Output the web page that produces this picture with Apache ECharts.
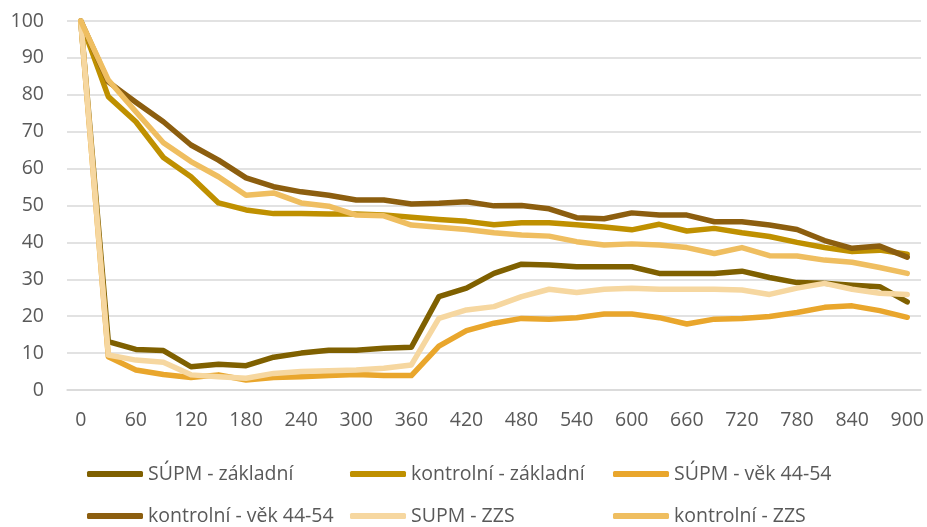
<!DOCTYPE html>
<html>
<head>
<meta charset="utf-8">
<script src="https://cdn.jsdelivr.net/npm/echarts@6/dist/echarts.min.js"></script>
<style>
html,body{margin:0;padding:0;background:#fff;}
#c{width:927px;height:527px;}
</style>
</head>
<body>
<div id="c"></div>
<script>
const categories = ['0','30','60','90','120','150','180','210','240','270','300','330','360','390','420','450','480','510','540','570','600','630','660','690','720','750','780','810','840','870','900'];
const seriesNames = ['SÚPM - základní','kontrolní - základní','SÚPM - věk 44-54','kontrolní - věk 44-54','SUPM - ZZS','kontrolní - ZZS'];
const supmZakladni = [100,13.1,11,10.7,6.3,7,6.6,8.9,10,10.8,10.8,11.3,11.6,25.3,27.6,31.6,34.1,33.9,33.4,33.4,33.4,31.6,31.6,31.6,32.2,30.5,29.1,28.9,28.4,28,23.9];
const kontrolniZakladni = [100,79.5,72.7,63,57.8,50.7,48.8,47.8,47.8,47.7,47.7,47.4,46.8,46.2,45.7,44.8,45.3,45.3,44.8,44.2,43.4,44.9,43.1,43.8,42.6,41.6,40,38.6,37.5,37.9,36.8];
const supmVek = [100,9,5.4,4.2,3.4,4.1,2.7,3.4,3.6,3.9,4.2,3.9,3.9,11.9,16.1,18.1,19.4,19.2,19.6,20.6,20.6,19.6,17.9,19.2,19.4,19.9,21,22.4,22.8,21.5,19.7];
const kontrolniVek = [100,83.5,78,72.7,66.4,62.3,57.5,55.1,53.7,52.8,51.5,51.5,50.4,50.6,51,49.9,50,49.1,46.7,46.4,48,47.4,47.4,45.6,45.6,44.7,43.5,40.5,38.4,39,36];
const supmZzs = [100,9.5,8.1,7.5,4.1,3.6,3.2,4.5,5,5.2,5.4,5.9,6.8,19.4,21.7,22.6,25.3,27.3,26.4,27.3,27.6,27.3,27.3,27.3,27.1,25.9,27.6,28.9,27.3,26.2,25.9];
const kontrolniZzs = [100,84,75.4,67,61.9,57.8,52.8,53.4,50.7,49.8,47.4,47.2,44.7,44.1,43.5,42.6,42,41.7,40.2,39.3,39.6,39.3,38.6,37,38.6,36.4,36.3,35.2,34.6,33.2,31.6];
const yTicks = {min:0, max:100, interval:10};

const colors = ['#7f6000','#bf9000','#e9a62c','#8c5e0f','#f6d7a0','#efbe60'];
const allData = [supmZakladni,kontrolniZakladni,supmVek,kontrolniVek,supmZzs,kontrolniZzs];
const FONT = '"Open Sans", "Noto Sans", sans-serif';
const TXT = '#595959';

const series = seriesNames.map((n,i)=>({
  name:n, type:'line', data:allData[i], symbol:'none',
  lineStyle:{width:5.5, color:colors[i], cap:'round', join:'round'},
  itemStyle:{color:colors[i]},
  emphasis:{disabled:true},
  z:2+i
}));

const legendLefts = [87,350,613];
const legendTops = [462,504];
const legends = seriesNames.map((n,i)=>({
  orient:'horizontal', left:legendLefts[i%3], top:legendTops[Math.floor(i/3)], padding:0,
  itemWidth:56, itemHeight:6, icon:'roundRect',
  data:[n], selectedMode:false,
  textStyle:{fontFamily:FONT, fontSize:19.5, color:TXT, lineHeight:24}
}));

const chart = echarts.init(document.getElementById('c'), null, {renderer:'canvas'});
chart.setOption({
  animation:false,
  backgroundColor:'#fff',
  grid:{left:67, right:6, top:21, bottom:137, containLabel:false},
  xAxis:{
    type:'category', data:categories, boundaryGap:true,
    axisLine:{show:true, lineStyle:{color:'#d9d9d9', width:1.5}},
    axisTick:{show:false},
    axisLabel:{interval:1, margin:20, fontFamily:FONT, fontSize:19.5, color:TXT}
  },
  yAxis:{
    type:'value', min:yTicks.min, max:yTicks.max, interval:yTicks.interval,
    axisLine:{show:false}, axisTick:{show:false},
    splitLine:{lineStyle:{color:'#d9d9d9', width:1.5}},
    axisLabel:{margin:23, fontFamily:FONT, fontSize:19.5, color:TXT}
  },
  legend:legends,
  series:series
});
</script>
</body>
</html>
